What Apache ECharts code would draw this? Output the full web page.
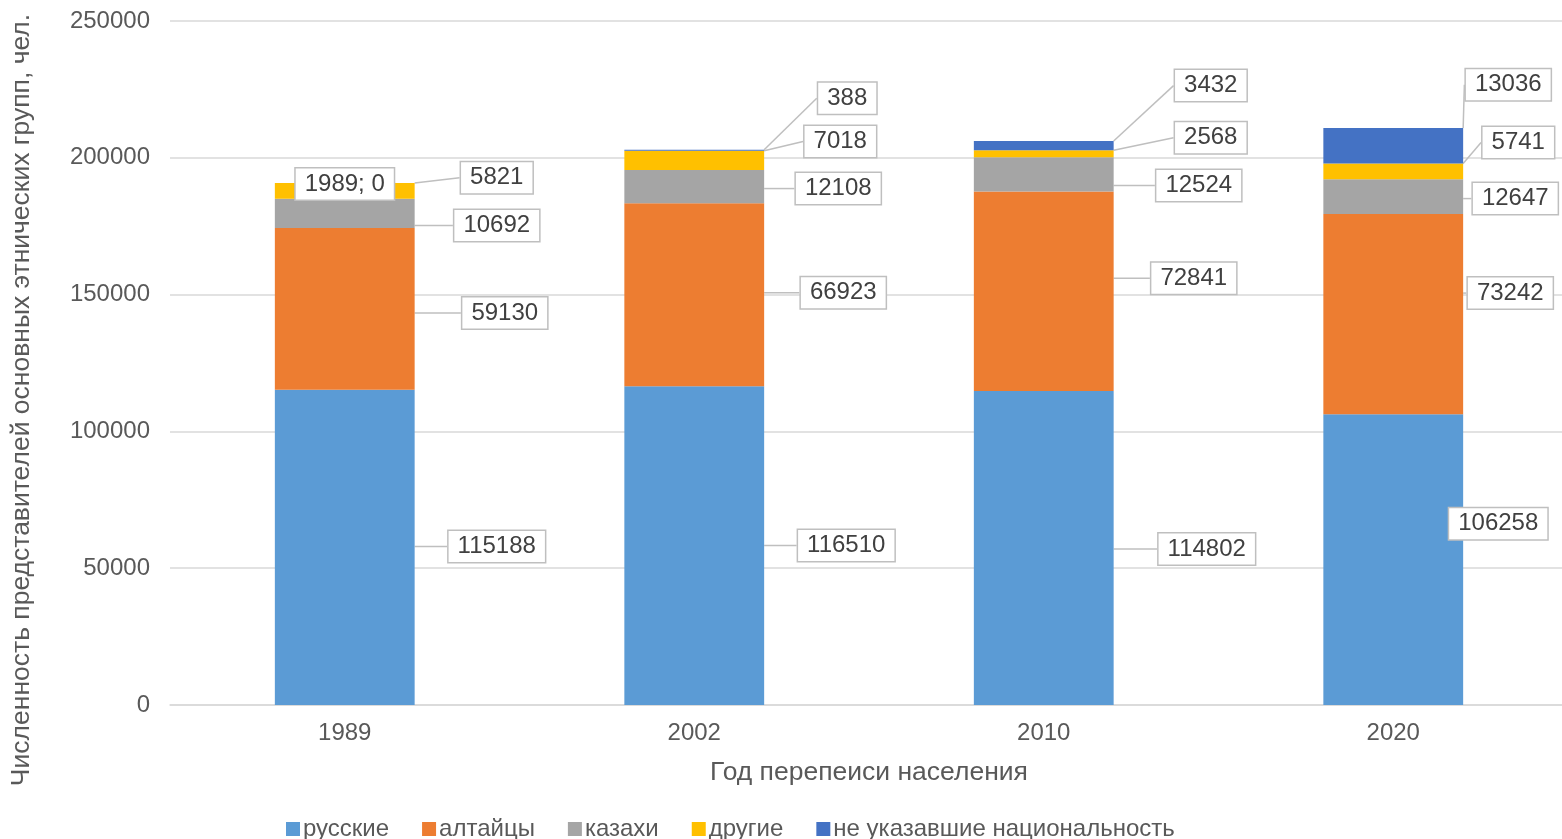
<!DOCTYPE html>
<html>
<head>
<meta charset="utf-8">
<script src="https://cdn.jsdelivr.net/npm/echarts@6/dist/echarts.min.js"></script>
<style>html,body{margin:0;padding:0;background:#fff}#c{width:1562px;height:839px}</style>
</head>
<body>
<div id="c"></div>
<script>
const categories = ['1989', '2002', '2010', '2020'];
const seriesNames = ['русские', 'алтайцы', 'казахи', 'другие', 'не указавшие национальность'];
const russkie = [115188, 116510, 114802, 106258];
const altaitsy = [59130, 66923, 72841, 73242];
const kazakhi = [10692, 12108, 12524, 12647];
const drugie = [5821, 7018, 2568, 5741];
const neUkazavshie = [0, 388, 3432, 13036];
const yTicks = { min: 0, max: 250000, interval: 50000 };
const yTitle = 'Численность представителей основных этнических групп, чел.';
const xTitle = 'Год перепеиси населения';

const colors = ['#5B9BD5', '#ED7D31', '#A5A5A5', '#FFC000', '#4472C4'];
// label box offsets (px) from segment centre, per series and category
const labelOffsets = [
  [[152, -1], [152, 0], [163, 1], [105, -36]],
  [[160, 4], [149, -2], [150, -13], [117, -21]],
  [[152, 12], [144, 2], [155, 11], [122, 2]],
  [[152, -13], [146, -19], [167, -16], [125, -29]],
  [[0, 1], [153, -52], [167, -60], [115, -61]]
];
const values = [russkie, altaitsy, kazakhi, drugie, neUkazavshie];
const font = 'Liberation Sans, Arial, sans-serif';

const series = values.map((vals, s) => ({
  name: seriesNames[s],
  type: 'bar',
  stack: 'total',
  barWidth: '40%',
  data: vals,
  itemStyle: { color: colors[s] },
  label: {
    show: true,
    position: 'inside',
    formatter: p => (p.value === 0 ? p.name + '; ' + p.value : String(p.value)),
    color: '#404040',
    fontFamily: font,
    fontSize: 24,
    backgroundColor: '#ffffff',
    borderColor: '#bfbfbf',
    borderWidth: 1.5,
    padding: [4, 9, 3, 9]
  },
  labelLine: { show: true, length2: 0, lineStyle: { color: '#bfbfbf', width: 1.5 } },
  labelLayout: function (params) {
    const off = labelOffsets[params.seriesIndex][params.dataIndex];
    const r = params.rect;
    return {
      x: r.x + r.width / 2 + off[0],
      y: r.y + r.height / 2 + off[1],
      align: 'center',
      verticalAlign: 'middle'
    };
  }
}));

const chart = echarts.init(document.getElementById('c'));
chart.setOption({
  animation: false,
  backgroundColor: '#ffffff',
  grid: { left: 170, right: -6, top: 21, bottom: 134, containLabel: false, outerBoundsMode: 'none' },
  graphic: [{
    type: 'text',
    x: 22,
    y: 400,
    rotation: Math.PI / 2,
    style: {
      text: yTitle,
      fill: '#595959',
      font: '26.5px ' + font,
      align: 'center',
      verticalAlign: 'middle'
    }
  }],
  legend: {
    data: seriesNames,
    left: 281,
    top: 812,
    itemWidth: 14,
    itemHeight: 14,
    itemGap: 33,
    icon: 'rect',
    textStyle: { color: '#595959', fontFamily: font, fontSize: 24, padding: [0, 0, 0, -2] }
  },
  xAxis: {
    type: 'category',
    data: categories,
    name: xTitle,
    nameLocation: 'middle',
    nameGap: 54,
    nameTextStyle: { color: '#595959', fontFamily: font, fontSize: 26.5, padding: [0, 0, 0, 0] },
    axisTick: { show: false },
    axisLine: { lineStyle: { color: '#d9d9d9', width: 1.5 } },
    axisLabel: { color: '#595959', fontFamily: font, fontSize: 24, margin: 16 }
  },
  yAxis: {
    type: 'value',
    min: yTicks.min,
    max: yTicks.max,
    interval: yTicks.interval,
    axisLine: { show: false },
    axisTick: { show: false },
    splitLine: { lineStyle: { color: '#d9d9d9', width: 1.5 } },
    axisLabel: { color: '#595959', fontFamily: font, fontSize: 24, margin: 20, formatter: v => String(v) }
  },
  series: series
});
</script>
</body>
</html>
